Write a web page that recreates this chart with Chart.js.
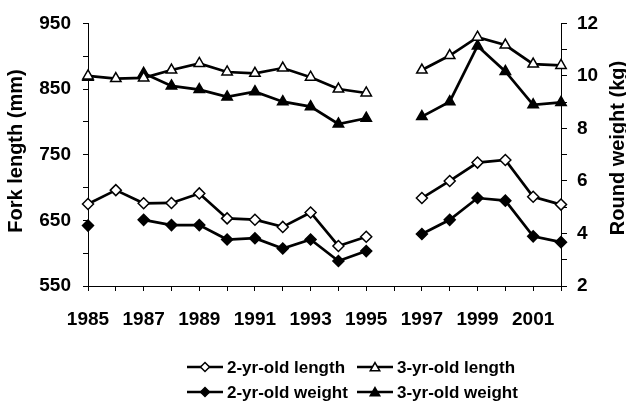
<!DOCTYPE html>
<html>
<head>
<meta charset="utf-8">
<script src="https://cdn.jsdelivr.net/npm/chart.js@4/dist/chart.umd.min.js"></script>
<style>
  body { margin: 0; background: #fff; }
  canvas { display: block; }
</style>
</head>
<body>
<canvas id="fish-chart" width="626" height="412"></canvas>
<script>
// survey years, 1996 has no samples
const years = [1985, 1986, 1987, 1988, 1989, 1990, 1991, 1992, 1993, 1994, 1995, 1996, 1997, 1998, 1999, 2000, 2001, 2002];

// fork length (mm), left axis
const length2 = [675, 696, 676, 676.5, 691, 653, 651, 640, 662, 611, 625, null, 684, 710, 738, 742, 686, 674];
const length3 = [870, 866, 867, 879, 889, 876, 874, 882, 868, 850, 844, null, 879, 901, 929, 917, 888, 886];

// round weight (kg), right axis
const weight2 = [4.3, null, 4.52, 4.32, 4.32, 3.77, 3.82, 3.43, 3.77, 2.95, 3.33, null, 3.98, 4.52, 5.35, 5.25, 3.89, 3.67];
const weight3 = [9.95, null, 10.1, 9.62, 9.48, 9.2, 9.4, 9.02, 8.83, 8.17, 8.39, null, 8.45, 9.02, 11.14, 10.17, 8.9, 8.99];

const seriesNames = ['2-yr-old length', '3-yr-old length', '2-yr-old weight', '3-yr-old weight'];
const leftTitle = 'Fork length (mm)';
const rightTitle = 'Round weight (kg)';

const FONT = "'Liberation Sans', Arial, sans-serif";

const series = (label, values, style, filled, axis) => ({
  label: label,
  data: years.map((yr, i) => ({ x: yr, y: values[i] })),
  yAxisID: axis,
  borderColor: '#000',
  borderWidth: 2.7,
  pointStyle: style,
  pointRadius: style === 'triangle' ? 6 : 5.5,
  pointBackgroundColor: filled ? '#000' : '#fff',
  pointBorderColor: '#000',
  pointBorderWidth: 1.5,
  pointHoverRadius: 0,
  spanGaps: false,
  tension: 0,
  clip: false
});

// little marker shapes for the legend
function marker(ctx, style, x, y, r, filled) {
  ctx.beginPath();
  if (style === 'triangle') {
    let a = 0;
    for (let k = 0; k < 3; k++) {
      const px = x + Math.sin(a) * r, py = y - Math.cos(a) * r;
      if (k === 0) ctx.moveTo(px, py); else ctx.lineTo(px, py);
      a += Math.PI * 2 / 3;
    }
  } else {
    ctx.moveTo(x, y - r);
    ctx.lineTo(x + r, y);
    ctx.lineTo(x, y + r);
    ctx.lineTo(x - r, y);
  }
  ctx.closePath();
  ctx.fillStyle = filled ? '#000' : '#fff';
  ctx.fill();
  ctx.lineWidth = 1.5;
  ctx.strokeStyle = '#000';
  ctx.stroke();
}

const legendSpots = [[187, 367], [357, 367], [187, 392], [357, 392]];

const extras = {
  id: 'extras',
  afterDraw(chart) {
    const ctx = chart.ctx;
    ctx.save();
    ctx.fillStyle = '#000';
    ctx.font = 'bold 20px ' + FONT;
    ctx.textAlign = 'center';
    ctx.textBaseline = 'middle';

    // axis titles, both read bottom to top
    ctx.save();
    ctx.translate(16, 151);
    ctx.rotate(-Math.PI / 2);
    ctx.fillText(leftTitle, 0, 0);
    ctx.restore();

    ctx.save();
    ctx.translate(618, 148);
    ctx.rotate(-Math.PI / 2);
    ctx.fillText(rightTitle, 0, 0);
    ctx.restore();

    // legend, two by two
    ctx.font = 'bold 17px ' + FONT;
    ctx.textAlign = 'left';
    chart.data.datasets.forEach((ds, i) => {
      const [lx, ly] = legendSpots[i];
      ctx.beginPath();
      ctx.moveTo(lx, ly);
      ctx.lineTo(lx + 36, ly);
      ctx.lineWidth = 2.5;
      ctx.strokeStyle = '#000';
      ctx.stroke();
      const tri = ds.pointStyle === 'triangle';
      marker(ctx, ds.pointStyle, lx + 18, ly + (tri ? 1 : 0), tri ? 5.5 : 4.5, ds.pointBackgroundColor === '#000');
      ctx.fillStyle = '#000';
      ctx.fillText(ds.label, lx + 40, ly + 1);
    });
    ctx.restore();
  }
};

const tickFont = { family: FONT, size: 19, weight: 'bold' };

new Chart(document.getElementById('fish-chart'), {
  type: 'line',
  data: {
    datasets: [
      series(seriesNames[0], length2, 'rectRot', false, 'y'),
      series(seriesNames[1], length3, 'triangle', false, 'y'),
      series(seriesNames[2], weight2, 'rectRot', true, 'y1'),
      series(seriesNames[3], weight3, 'triangle', true, 'y1')
    ]
  },
  options: {
    responsive: false,
    animation: false,
    layout: { padding: { top: 11, left: 0, right: 0, bottom: 0 } },
    plugins: {
      legend: { display: false },
      tooltip: { enabled: false }
    },
    scales: {
      x: {
        type: 'linear',
        min: 1985,
        max: 2002,
        afterFit: s => { s.height = 126; },
        ticks: {
          stepSize: 1,
          autoSkip: false,
          maxRotation: 0,
          padding: 17,
          color: '#000',
          font: tickFont,
          callback: v => ((v - 1985) % 2 === 0 ? String(v) : '')
        },
        grid: { drawOnChartArea: false, tickLength: 5, color: '#000' },
        border: { color: '#000', width: 1 }
      },
      y: {
        position: 'left',
        min: 550,
        max: 950,
        afterFit: s => { s.width = 88; },
        ticks: {
          stepSize: 50,
          padding: 12,
          color: '#000',
          font: tickFont,
          callback: v => ((v - 550) % 100 === 0 ? String(v) : '')
        },
        grid: { drawOnChartArea: false, tickLength: 5, color: '#000' },
        border: { color: '#000', width: 1 }
      },
      y1: {
        position: 'right',
        min: 2,
        max: 12,
        afterFit: s => { s.width = 65; },
        ticks: {
          stepSize: 1,
          padding: 10,
          color: '#000',
          font: tickFont,
          callback: v => (v % 2 === 0 ? String(v) : '')
        },
        grid: { drawOnChartArea: false, tickLength: 6, color: '#000' },
        border: { color: '#000', width: 1 }
      }
    }
  },
  plugins: [extras]
});
</script>
</body>
</html>
